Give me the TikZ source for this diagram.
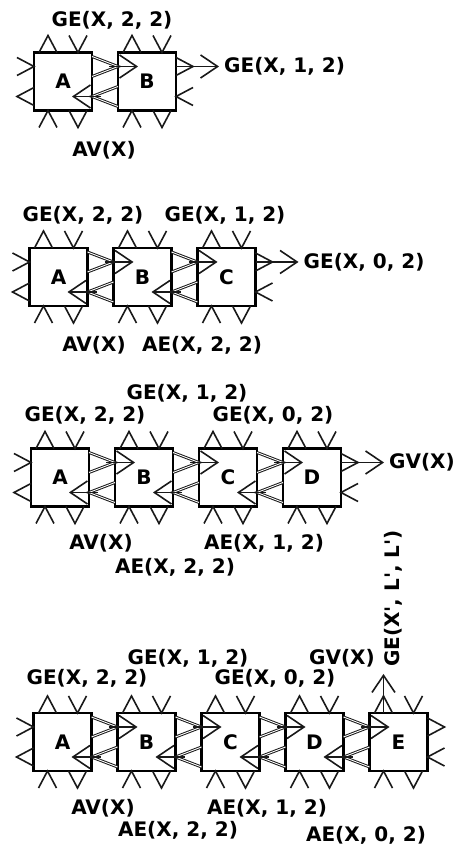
\documentclass[tikz,border=0pt]{standalone}
\usepackage{fontspec}
\setmainfont{DejaVu Sans}
\usetikzlibrary{arrows.meta,positioning,calc}
% chevrons: legs at the point (out) or apex at the point (in)
\newcommand{\outp}[3]{\draw[port,shift={($(#1)+(#2)$)},rotate=#3] (0,9) -- (17,0) -- (0,-9);}
\newcommand{\inp}[3]{\draw[port,shift={($(#1)+(#2)$)},rotate=#3] (-17,9) -- (0,0) -- (-17,-9);}
\newcommand{\topbot}[1]{\outp{#1.north}{-15,0}{90}\inp{#1.north}{15,0}{-90}\inp{#1.south}{-15,0}{90}\outp{#1.south}{15,0}{-90}}
\newcommand{\lports}[1]{\inp{#1.west}{0,15}{0}\outp{#1.west}{0,-15}{180}}
\newcommand{\rports}[1]{\outp{#1.east}{0,15}{0}\inp{#1.east}{0,-15}{180}}
\newcommand{\link}[2]{%
  \draw[dport] ($(#1.east)+(0,25)$) -- ($(#2.west)+(0,15)$) -- ($(#1.east)+(0,5)$);
  \draw[wire] ($(#1.east)+(17,15)$) -- ($(#2.west)+(20,15)$);
  \draw[dport] ($(#2.west)+(0,-5)$) -- ($(#1.east)+(0,-15)$) -- ($(#2.west)+(0,-25)$);
  \draw[wire] ($(#2.west)+(-17,-15)$) -- ($(#1.east)+(-20,-15)$);}

\begin{document}
\begin{tikzpicture}[x=1pt,y=1pt,
  font=\bfseries\fontsize{20}{24}\selectfont,
  box/.style={draw,line width=2.2pt,minimum size=58pt,inner sep=0pt,outer sep=0pt},
  lbl/.style={inner sep=0pt},
  port/.style={line width=1.6pt,black!90},
  dport/.style={line width=1pt,double,double distance=0.9pt,black!90},
  wire/.style={line width=1.6pt,black!90,-{Straight Barb[length=17pt,width=23pt]}}]
  \useasboundingbox (0,0) rectangle (459,847);
  % panel 1
  \node[box] (a1) at (63,765.5) {A};
  \node[box,right=26pt of a1] (b1) {B};
  \foreach \n in {a1,b1} {\topbot{\n}}
  \lports{a1} \rports{b1} \link{a1}{b1}
  \node[lbl] (ge1a) at (112,827) {GE(X, 2, 2)};
  \node[lbl] (av1) at (104,697) {AV(X)};
  \node[lbl,anchor=west] (ge1b) at ($(b1.east)+(48,15)$) {GE(X, 1, 2)};
  \draw[wire] ($(b1.east)+(0,15)$) -- ([xshift=-5pt]ge1b.west);
  % panel 2
  \node[box] (a2) at (58.5,570) {A};
  \node[box,right=26pt of a2] (b2) {B};
  \node[box,right=26pt of b2] (c2) {C};
  \foreach \n in {a2,b2,c2} {\topbot{\n}}
  \lports{a2} \rports{c2} \link{a2}{b2} \link{b2}{c2}
  \node[lbl] (ge2a) at (83,632) {GE(X, 2, 2)};
  \node[lbl] (ge2b) at (225,632) {GE(X, 1, 2)};
  \node[lbl] (av2) at (94,502) {AV(X)};
  \node[lbl] (ae2a) at (202,502) {AE(X, 2, 2)};
  \node[lbl,anchor=west] (ge2c) at ($(c2.east)+(48,15)$) {GE(X, 0, 2)};
  \draw[wire] ($(c2.east)+(0,15)$) -- ([xshift=-5pt]ge2c.west);
  % panel 3
  \node[box] (a3) at (60,369.5) {A};
  \node[box,right=26pt of a3] (b3) {B};
  \node[box,right=26pt of b3] (c3) {C};
  \node[box,right=26pt of c3] (d3) {D};
  \foreach \n in {a3,b3,c3,d3} {\topbot{\n}}
  \lports{a3} \rports{d3} \link{a3}{b3} \link{b3}{c3} \link{c3}{d3}
  \node[lbl] (ge3b) at (187,454) {GE(X, 1, 2)};
  \node[lbl] (ge3a) at (85,432) {GE(X, 2, 2)};
  \node[lbl] (ge3c) at (273,432) {GE(X, 0, 2)};
  \node[lbl] (av3) at (101,304) {AV(X)};
  \node[lbl] (ae3b) at (264,304) {AE(X, 1, 2)};
  \node[lbl] (ae3a) at (175,280) {AE(X, 2, 2)};
  \node[lbl,anchor=west] (gv3) at ($(d3.east)+(48,15)$) {GV(X)};
  \draw[wire] ($(d3.east)+(0,15)$) -- ([xshift=-5pt]gv3.west);
  % panel 4
  \node[box] (a4) at (62.5,105) {A};
  \node[box,right=26pt of a4] (b4) {B};
  \node[box,right=26pt of b4] (c4) {C};
  \node[box,right=26pt of c4] (d4) {D};
  \node[box,right=26pt of d4] (e4) {E};
  \foreach \n in {a4,b4,c4,d4,e4} {\topbot{\n}}
  \lports{a4} \rports{e4} \link{a4}{b4} \link{b4}{c4} \link{c4}{d4} \link{d4}{e4}
  \node[lbl] (ge4b) at (188,189) {GE(X, 1, 2)};
  \node[lbl] (ge4a) at (87,169) {GE(X, 2, 2)};
  \node[lbl] (ge4c) at (275,169) {GE(X, 0, 2)};
  \node[lbl] (gv4) at (342,189) {GV(X)};
  \node[lbl] (av4) at (103,39) {AV(X)};
  \node[lbl] (ae4b) at (267,39) {AE(X, 1, 2)};
  \node[lbl] (ae4a) at (178,17) {AE(X, 2, 2)};
  \node[lbl] (ae4c) at (366,12) {AE(X, 0, 2)};
  \node[lbl,rotate=90] (gel) at (393,248.5) {GE(X\textquotesingle, L\textquotesingle, L\textquotesingle)};
  \coordinate (up) at ($(e4.north)+(-15,39)$);
  \draw[wire] ($(e4.north)+(-15,0)$) -- (up);
\end{tikzpicture}
\end{document}
